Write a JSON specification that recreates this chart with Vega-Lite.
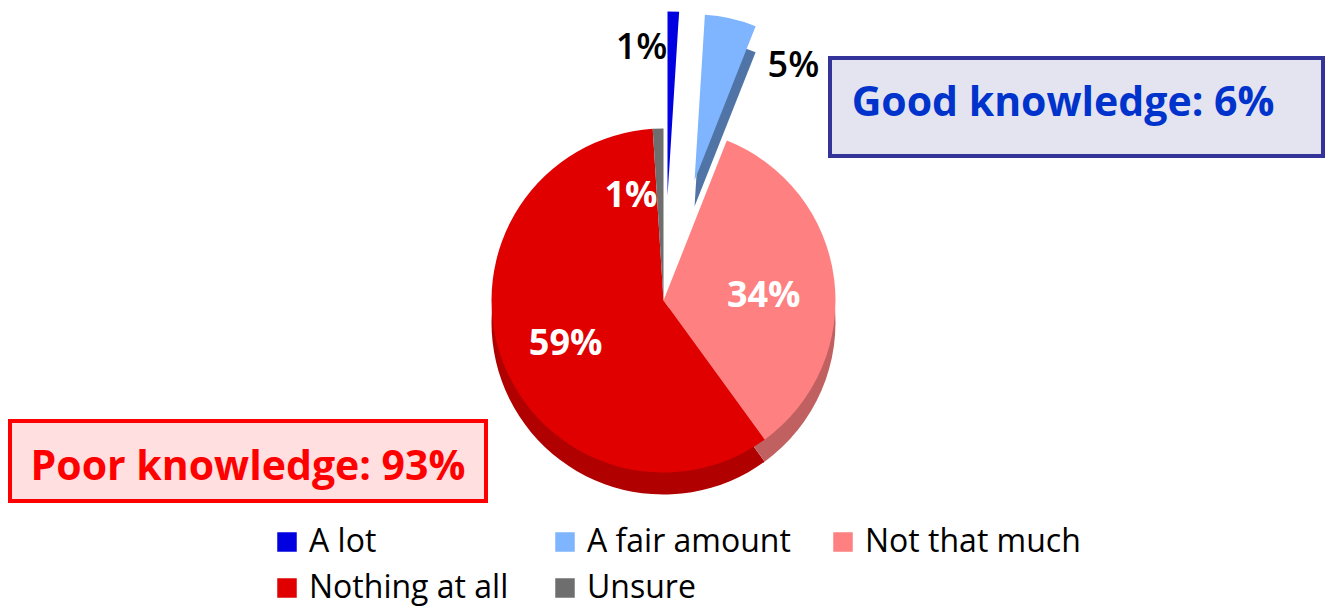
{"$schema":"https://vega.github.io/schema/vega-lite/v6.json","width":1325,"height":609,"autosize":{"type":"fit","contains":"padding"},"padding":0,"background":"white","view":{"stroke":null},
"data":{"values":[{"answer":"A lot","pct":1,"order":1},{"answer":"A fair amount","pct":5,"order":2},{"answer":"Not that much","pct":34,"order":3},{"answer":"Nothing at all","pct":59,"order":4},{"answer":"Unsure","pct":1,"order":5}]},
"transform":[{"stack":"pct","groupby":[],"sort":[{"field":"order"}],"as":["p0","p1"]},{"calculate":"(datum.p0+datum.p1)/2","as":"mid"}],
"encoding":{"theta":{"field":"p0","type":"quantitative","scale":{"domain":[0,100]}},"theta2":{"field":"p1"}},
"layer":[
{"transform":[{"filter":"datum.answer=='Nothing at all'"}],"mark":{"type":"arc","outerRadius":172,"fill":"#b00000","xOffset":1,"yOffset":18}},
{"transform":[{"filter":"datum.answer=='Not that much'"}],"mark":{"type":"arc","outerRadius":172,"fill":"#c06060","xOffset":1,"yOffset":18}},
{"transform":[{"filter":"datum.answer=='A fair amount'"}],"mark":{"type":"arc","outerRadius":166,"fill":"#4f74a5","xOffset":32,"yOffset":-98}},
{"transform":[{"filter":"datum.answer=='A fair amount'"}],"mark":{"type":"arc","outerRadius":166,"xOffset":32,"yOffset":-124},"encoding":{"color":{"field":"answer","type":"nominal","scale":{"domain":["A lot","A fair amount","Not that much","Nothing at all","Unsure"],"range":["#0000e0","#7fb4ff","#ff8080","#e00000","#6e6e6e"]},"legend":{"title":null,"orient":"none","legendX":271,"legendY":526,"columns":3,"direction":"horizontal","gridAlign":"all","symbolType":"square","symbolSize":380,"symbolStrokeWidth":0,"labelFont":"Open Sans","labelFontSize":32,"labelFontWeight":500,"labelColor":"#000000","labelOffset":6,"rowPadding":14,"columnPadding":24,"labelLimit":400}}}},
{"transform":[{"filter":"datum.answer=='A lot'"}],"mark":{"type":"arc","outerRadius":185,"xOffset":5,"yOffset":-108},"encoding":{"color":{"field":"answer","type":"nominal"}}},
{"transform":[{"filter":"datum.answer=='Not that much'"}],"mark":{"type":"arc","outerRadius":172,"xOffset":1,"yOffset":-4},"encoding":{"color":{"field":"answer","type":"nominal"}}},
{"transform":[{"filter":"datum.answer=='Nothing at all'||datum.answer=='Unsure'"}],"mark":{"type":"arc","outerRadius":172,"xOffset":1,"yOffset":-4},"encoding":{"color":{"field":"answer","type":"nominal"}}},
{"transform":[{"filter":"datum.answer=='Not that much'"}],"mark":{"type":"text","radius":102,"yOffset":4,"font":"Open Sans","fontWeight":"bold","fontSize":36,"fill":"white"},"encoding":{"theta":{"field":"mid","type":"quantitative","scale":{"domain":[0,100]}},"theta2":null,"text":{"value":"34%"}}},
{"transform":[{"filter":"datum.answer=='Nothing at all'"}],"mark":{"type":"text","radius":103,"yOffset":5,"font":"Open Sans","fontWeight":"bold","fontSize":36,"fill":"white"},"encoding":{"theta":{"field":"mid","type":"quantitative","scale":{"domain":[0,100]}},"theta2":null,"text":{"value":"59%"}}},
{"transform":[{"filter":"datum.answer=='Unsure'"}],"mark":{"type":"text","radius":111,"xOffset":-28,"yOffset":2,"font":"Open Sans","fontWeight":"bold","fontSize":36,"fill":"white"},"encoding":{"theta":{"field":"mid","type":"quantitative","scale":{"domain":[0,100]}},"theta2":null,"text":{"value":"1%"}}},
{"transform":[{"filter":"datum.answer=='A lot'"}],"mark":{"type":"text","radius":257,"xOffset":-29,"font":"Open Sans","fontWeight":600,"fontSize":36,"fill":"black"},"encoding":{"theta":{"field":"mid","type":"quantitative","scale":{"domain":[0,100]}},"theta2":null,"text":{"value":"1%"}}},
{"transform":[{"filter":"datum.answer=='A fair amount'"}],"mark":{"type":"text","radius":270,"xOffset":72,"yOffset":25,"font":"Open Sans","fontWeight":600,"fontSize":36,"fill":"black"},"encoding":{"theta":{"field":"mid","type":"quantitative","scale":{"domain":[0,100]}},"theta2":null,"text":{"value":"5%"}}},
{"data":{"values":[{"note":"Good knowledge: 6%"}]},"transform":[],"mark":{"type":"rect","fill":"#e4e4f0","stroke":"#333399","strokeWidth":4},"encoding":{"theta":null,"theta2":null,"x":{"value":830},"x2":{"value":1323},"y":{"value":58},"y2":{"value":156}}},
{"data":{"values":[{"note":"Good knowledge: 6%"}]},"mark":{"type":"text","font":"Open Sans","fontWeight":"bold","fontSize":41,"fill":"#0033cc","align":"center"},"encoding":{"theta":null,"theta2":null,"text":{"field":"note"},"x":{"value":1063},"y":{"value":104}}},
{"data":{"values":[{"note":"Poor knowledge: 93%"}]},"mark":{"type":"rect","fill":"#ffdfdf","stroke":"#ff0000","strokeWidth":4},"encoding":{"theta":null,"theta2":null,"x":{"value":10},"x2":{"value":486},"y":{"value":421},"y2":{"value":501}}},
{"data":{"values":[{"note":"Poor knowledge: 93%"}]},"mark":{"type":"text","font":"Open Sans","fontWeight":"bold","fontSize":41,"fill":"#ff0000","align":"center"},"encoding":{"theta":null,"theta2":null,"text":{"field":"note"},"x":{"value":248},"y":{"value":468}}}
]}
